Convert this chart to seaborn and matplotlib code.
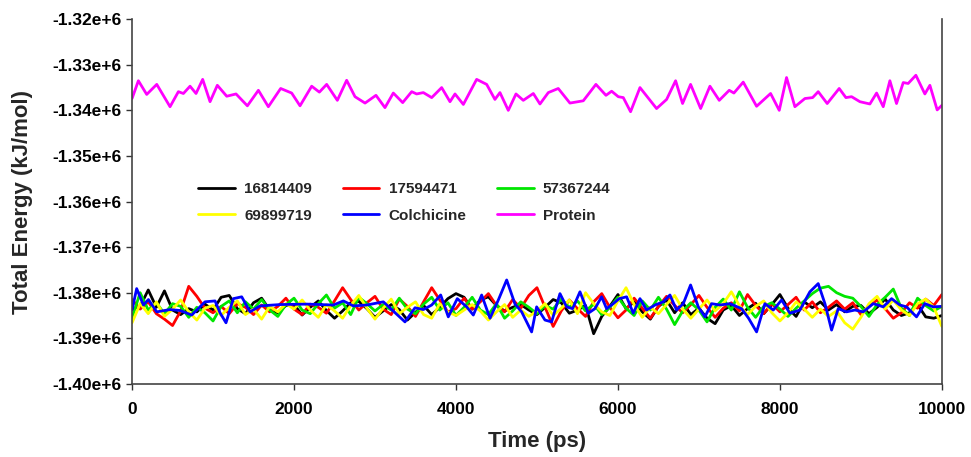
import numpy as np
import pandas as pd
import matplotlib
matplotlib.use("Agg")
import matplotlib.pyplot as plt
import seaborn as sns

# --- values (energies in 10^3 kJ/mol) ---
grid_t = list(range(0, 10001, 100))

black_e = [
    -1383.6, -1383.0, -1379.4, -1383.2, -1379.6, -1383.8, -1384.8, -1383.5, -1384.2, -1382.5,
    -1383.8, -1381.0, -1380.6, -1383.5, -1384.6, -1382.2, -1381.2, -1383.8, -1384.4, -1382.8,
    -1382.6, -1384.9, -1383.2, -1381.8, -1383.9, -1385.6, -1384.0, -1382.2, -1381.9, -1383.5,
    -1385.4, -1384.0, -1382.6, -1383.7, -1386.0, -1384.3, -1382.8, -1384.8, -1383.2, -1381.3,
    -1380.2, -1381.0, -1383.6, -1381.6, -1380.9, -1382.8, -1384.0, -1383.2, -1382.6, -1383.8,
    -1384.8, -1383.2, -1381.5, -1382.2, -1384.5, -1383.8, -1382.8, -1389.0, -1385.2, -1383.0,
    -1380.4, -1383.5, -1382.0, -1384.2, -1385.8, -1383.0, -1381.6, -1384.4, -1382.2, -1384.8,
    -1383.4, -1385.6, -1386.8, -1383.8, -1382.8, -1385.0, -1383.5, -1382.3, -1384.6, -1382.6,
    -1380.4, -1383.4, -1385.2, -1382.0, -1383.3, -1382.0, -1383.8, -1382.6, -1384.2, -1383.0,
    -1382.8, -1384.6, -1383.2, -1381.4, -1383.8, -1385.0, -1384.4, -1382.6, -1385.3, -1385.6, -1385.0,
]

red_e = [
    -1381.5, -1383.6, -1382.0, -1384.6, -1385.8, -1387.2, -1384.0, -1378.6, -1380.8, -1383.4,
    -1384.4, -1383.0, -1384.6, -1382.4, -1383.2, -1384.8, -1382.7, -1384.2, -1383.0, -1381.2,
    -1383.6, -1384.8, -1382.5, -1383.2, -1384.5, -1381.8, -1378.9, -1381.5, -1383.8, -1382.2,
    -1380.8, -1383.6, -1384.8, -1381.4, -1383.0, -1385.2, -1382.0, -1378.9, -1381.6, -1384.2,
    -1383.5, -1381.2, -1383.6, -1382.0, -1380.2, -1382.8, -1384.2, -1381.5, -1383.4, -1380.6,
    -1378.9, -1383.2, -1387.4, -1384.0, -1381.6, -1383.5, -1385.2, -1382.0, -1380.2, -1383.2,
    -1385.5, -1383.8, -1381.2, -1383.4, -1385.6, -1383.0, -1380.8, -1382.8, -1384.4, -1382.6,
    -1380.6, -1383.2, -1385.4, -1383.4, -1382.2, -1384.0, -1380.4, -1382.8, -1384.6, -1382.4,
    -1384.2, -1382.6, -1381.0, -1383.8, -1382.0, -1384.4, -1383.2, -1381.8, -1383.6, -1382.2,
    -1384.8, -1383.0, -1381.6, -1383.5, -1385.6, -1384.4, -1382.2, -1383.4, -1381.4, -1382.8, -1380.4,
]

green_e = [
    -1385.5, -1380.0, -1383.8, -1382.2, -1384.6, -1382.4, -1383.0, -1385.4, -1383.2, -1384.4,
    -1386.2, -1383.0, -1381.8, -1384.4, -1382.0, -1383.6, -1381.5, -1383.8, -1385.2, -1382.6,
    -1381.2, -1383.8, -1384.6, -1382.4, -1380.5, -1383.4, -1382.2, -1384.8, -1381.0, -1382.4,
    -1384.0, -1382.6, -1383.8, -1381.2, -1383.6, -1384.6, -1382.5, -1381.0, -1383.8, -1382.2,
    -1385.0, -1383.2, -1381.0, -1383.8, -1384.8, -1382.4, -1385.6, -1384.0, -1382.0, -1383.2,
    -1384.6, -1382.8, -1383.6, -1381.4, -1383.2, -1381.8, -1384.0, -1382.5, -1384.8, -1383.2,
    -1381.0, -1383.4, -1385.0, -1381.8, -1383.8, -1381.0, -1383.6, -1387.0, -1384.0, -1382.2,
    -1383.8, -1386.4, -1383.2, -1381.4, -1383.8, -1379.8, -1383.2, -1385.4, -1383.0, -1382.2,
    -1383.6, -1385.2, -1383.4, -1381.8, -1380.2, -1379.0, -1378.6, -1380.0, -1380.8, -1381.2,
    -1383.0, -1385.2, -1382.6, -1381.0, -1379.2, -1383.4, -1385.0, -1381.2, -1382.8, -1384.0, -1383.0,
]

yellow_e = [
    -1386.6, -1382.4, -1384.6, -1382.0, -1385.2, -1383.6, -1381.6, -1384.2, -1386.0, -1383.4,
    -1382.8, -1385.0, -1383.2, -1381.8, -1384.8, -1383.6, -1385.8, -1383.0, -1384.2, -1382.4,
    -1383.6, -1381.6, -1383.8, -1385.4, -1382.6, -1384.0, -1385.6, -1382.8, -1380.6, -1383.4,
    -1385.8, -1383.4, -1381.4, -1384.6, -1383.2, -1382.0, -1384.8, -1385.6, -1382.4, -1384.2,
    -1385.0, -1383.8, -1382.6, -1384.0, -1386.0, -1384.2, -1382.6, -1385.4, -1383.8, -1385.2,
    -1384.0, -1382.4, -1385.0, -1383.4, -1381.6, -1384.6, -1380.0, -1382.4, -1384.2, -1385.0,
    -1381.8, -1378.9, -1382.6, -1385.4, -1383.2, -1384.6, -1382.6, -1380.6, -1383.6, -1385.6,
    -1383.6, -1381.6, -1384.0, -1382.4, -1379.8, -1382.8, -1384.8, -1383.0, -1381.8, -1384.4,
    -1386.2, -1384.4, -1382.0, -1383.6, -1385.4, -1383.6, -1385.2, -1384.0, -1386.6, -1388.0,
    -1385.4, -1382.4, -1380.8, -1383.6, -1381.6, -1383.8, -1385.0, -1382.4, -1381.4, -1383.2, -1387.4,
]

blue_t = [
    0, 57, 140, 202, 305, 469, 593, 737, 901, 1025,
    1086, 1160, 1251, 1354, 1457, 1580, 1827, 2156, 2486, 2609,
    2733, 2897, 3103, 3206, 3370, 3494, 3597, 3700, 3811, 3905,
    4016, 4132, 4214, 4317, 4420, 4523, 4626, 4729, 4811, 4934,
    4996, 5099, 5181, 5284, 5366, 5440, 5531, 5634, 5716, 5798,
    5860, 5942, 6016, 6107, 6189, 6272, 6354, 6457, 6560, 6642,
    6724, 6807, 6897, 6992, 7074, 7156, 7259, 7383, 7527, 7613,
    7712, 7815, 7918, 8021, 8123, 8247, 8370, 8473, 8556, 8638,
    8720, 8823, 8926, 9029, 9152, 9276, 9379, 9481, 9564, 9687,
    9790, 9893, 10000,
]
blue_e = [
    -1383.8, -1379.1, -1382.7, -1381.5, -1384.2, -1383.7, -1383.9, -1384.9, -1382.0, -1381.8,
    -1384.4, -1386.6, -1381.3, -1380.9, -1384.2, -1382.9, -1382.6, -1382.5, -1382.7, -1381.8,
    -1382.9, -1382.7, -1382.0, -1383.7, -1386.4, -1383.3, -1383.7, -1382.7, -1380.5, -1385.3,
    -1381.3, -1383.1, -1384.9, -1380.5, -1385.6, -1381.6, -1377.2, -1382.5, -1384.2, -1388.6,
    -1383.1, -1386.0, -1386.4, -1380.2, -1383.1, -1383.5, -1379.8, -1384.5, -1383.5, -1380.9,
    -1383.5, -1382.4, -1381.3, -1380.9, -1384.5, -1381.3, -1383.8, -1382.7, -1382.0, -1380.5,
    -1383.8, -1382.4, -1378.3, -1383.1, -1385.3, -1382.4, -1382.7, -1382.4, -1383.5, -1385.6,
    -1388.6, -1382.4, -1383.8, -1381.6, -1384.5, -1383.8, -1379.8, -1378.0, -1382.4, -1388.2,
    -1383.5, -1384.2, -1383.8, -1384.2, -1382.4, -1383.1, -1381.3, -1382.7, -1383.1, -1385.3,
    -1382.4, -1383.1, -1383.0,
]

protein_t = [
    0, 78, 181, 305, 469, 572, 634, 716, 790, 872,
    963, 1053, 1169, 1284, 1424, 1560, 1683, 1835, 1971, 2074,
    2218, 2313, 2403, 2535, 2650, 2753, 2877, 3012, 3123, 3226,
    3342, 3453, 3514, 3597, 3700, 3823, 3926, 3988, 4091, 4255,
    4379, 4481, 4543, 4646, 4741, 4831, 4955, 5037, 5140, 5263,
    5407, 5572, 5728, 5852, 5922, 6004, 6066, 6156, 6272, 6477,
    6601, 6712, 6798, 6897, 7021, 7136, 7251, 7374, 7432, 7547,
    7712, 7885, 7992, 8082, 8185, 8309, 8404, 8473, 8584, 8732,
    8815, 8885, 8988, 9111, 9194, 9276, 9358, 9440, 9523, 9584,
    9679, 9790, 9852, 9942, 10000,
]
protein_e = [
    -1337.4, -1333.5, -1336.5, -1334.3, -1339.2, -1335.9, -1336.3, -1334.7, -1336.3, -1333.2,
    -1338.1, -1334.5, -1336.9, -1336.4, -1339.0, -1335.6, -1339.2, -1335.2, -1336.2, -1339.0,
    -1334.7, -1336.0, -1334.3, -1337.8, -1333.4, -1337.0, -1338.4, -1336.7, -1339.4, -1336.2,
    -1338.3, -1335.9, -1336.4, -1336.1, -1337.2, -1335.0, -1338.1, -1336.4, -1338.7, -1333.2,
    -1334.3, -1337.6, -1336.1, -1340.0, -1336.4, -1337.8, -1336.3, -1338.6, -1336.1, -1335.2,
    -1338.4, -1337.9, -1334.3, -1336.7, -1335.8, -1337.0, -1337.2, -1340.3, -1335.0, -1339.6,
    -1337.6, -1333.5, -1338.5, -1334.3, -1339.6, -1334.7, -1337.8, -1335.6, -1336.2, -1333.8,
    -1339.1, -1336.3, -1340.0, -1332.8, -1339.2, -1337.4, -1337.2, -1335.9, -1338.5, -1335.2,
    -1337.2, -1337.0, -1338.1, -1338.6, -1336.2, -1339.2, -1333.5, -1338.5, -1333.9, -1334.1,
    -1332.3, -1336.4, -1334.5, -1339.9, -1338.9,
]

names = ["16814409", "17594471", "57367244", "69899719", "Colchicine", "Protein"]
colors = ["#000000", "#ff0000", "#00e600", "#ffff00", "#0000ff", "#ff00ff"]
times = [grid_t, grid_t, grid_t, grid_t, blue_t, protein_t]
energies = [black_e, red_e, green_e, yellow_e, blue_e, protein_e]

# long-format table
frames = []
for name, t, e in zip(names, times, energies):
    frames.append(pd.DataFrame({"Time": t, "Energy": np.array(e) * 1000, "Compound": name}))
df = pd.concat(frames, ignore_index=True)

sns.set_style("ticks")
plt.rcParams["font.family"] = ["Liberation Sans", "DejaVu Sans"]
plt.rcParams["font.weight"] = "bold"
plt.rcParams["lines.solid_joinstyle"] = "round"

fig = plt.figure(figsize=(9.71, 4.57), dpi=100)
ax = fig.add_axes([0.136, 0.160, 0.834, 0.798])

for name, c in zip(names, colors):
    sns.lineplot(data=df[df["Compound"] == name], x="Time", y="Energy",
                 color=c, lw=2.0, label=name, estimator=None, sort=False, ax=ax)

ax.set_xlim(0, 10000)
ax.set_ylim(-1.40e6, -1.32e6)
ax.set_xticks(range(0, 10001, 2000))
ax.set_yticks(np.arange(-1.40e6, -1.3199e6, 0.01e6))
ax.set_yticklabels([f"{v / 1e6:.2f}e+6" for v in ax.get_yticks()])
ax.tick_params(labelsize=12.5, length=4, width=1, colors="#333333", labelcolor="black")
ax.tick_params(axis="x", pad=9)
for lab in ax.get_xticklabels() + ax.get_yticklabels():
    lab.set_fontweight("bold")

ax.spines["top"].set_visible(False)
for s in ["left", "bottom", "right"]:
    ax.spines[s].set_color("#444444")
    ax.spines[s].set_linewidth(1.2)

ax.set_xlabel("Time (ps)", fontsize=16, fontweight="bold", labelpad=10)
ax.set_ylabel("Total Energy (kJ/mol)", fontsize=16, fontweight="bold", labelpad=14)

# legend: row 1 = black, red, green ; row 2 = yellow, blue, magenta
handles, labels = ax.get_legend_handles_labels()
order = [0, 3, 1, 4, 2, 5]
ax.legend([handles[i] for i in order], [labels[i] for i in order], ncol=3,
          frameon=False, loc="upper left", bbox_to_anchor=(0.065, 0.59),
          prop={"size": 11, "weight": "bold"}, handlelength=2.4,
          handletextpad=0.6, columnspacing=2.0, labelspacing=0.8)

fig.savefig("out.png", dpi=100)
